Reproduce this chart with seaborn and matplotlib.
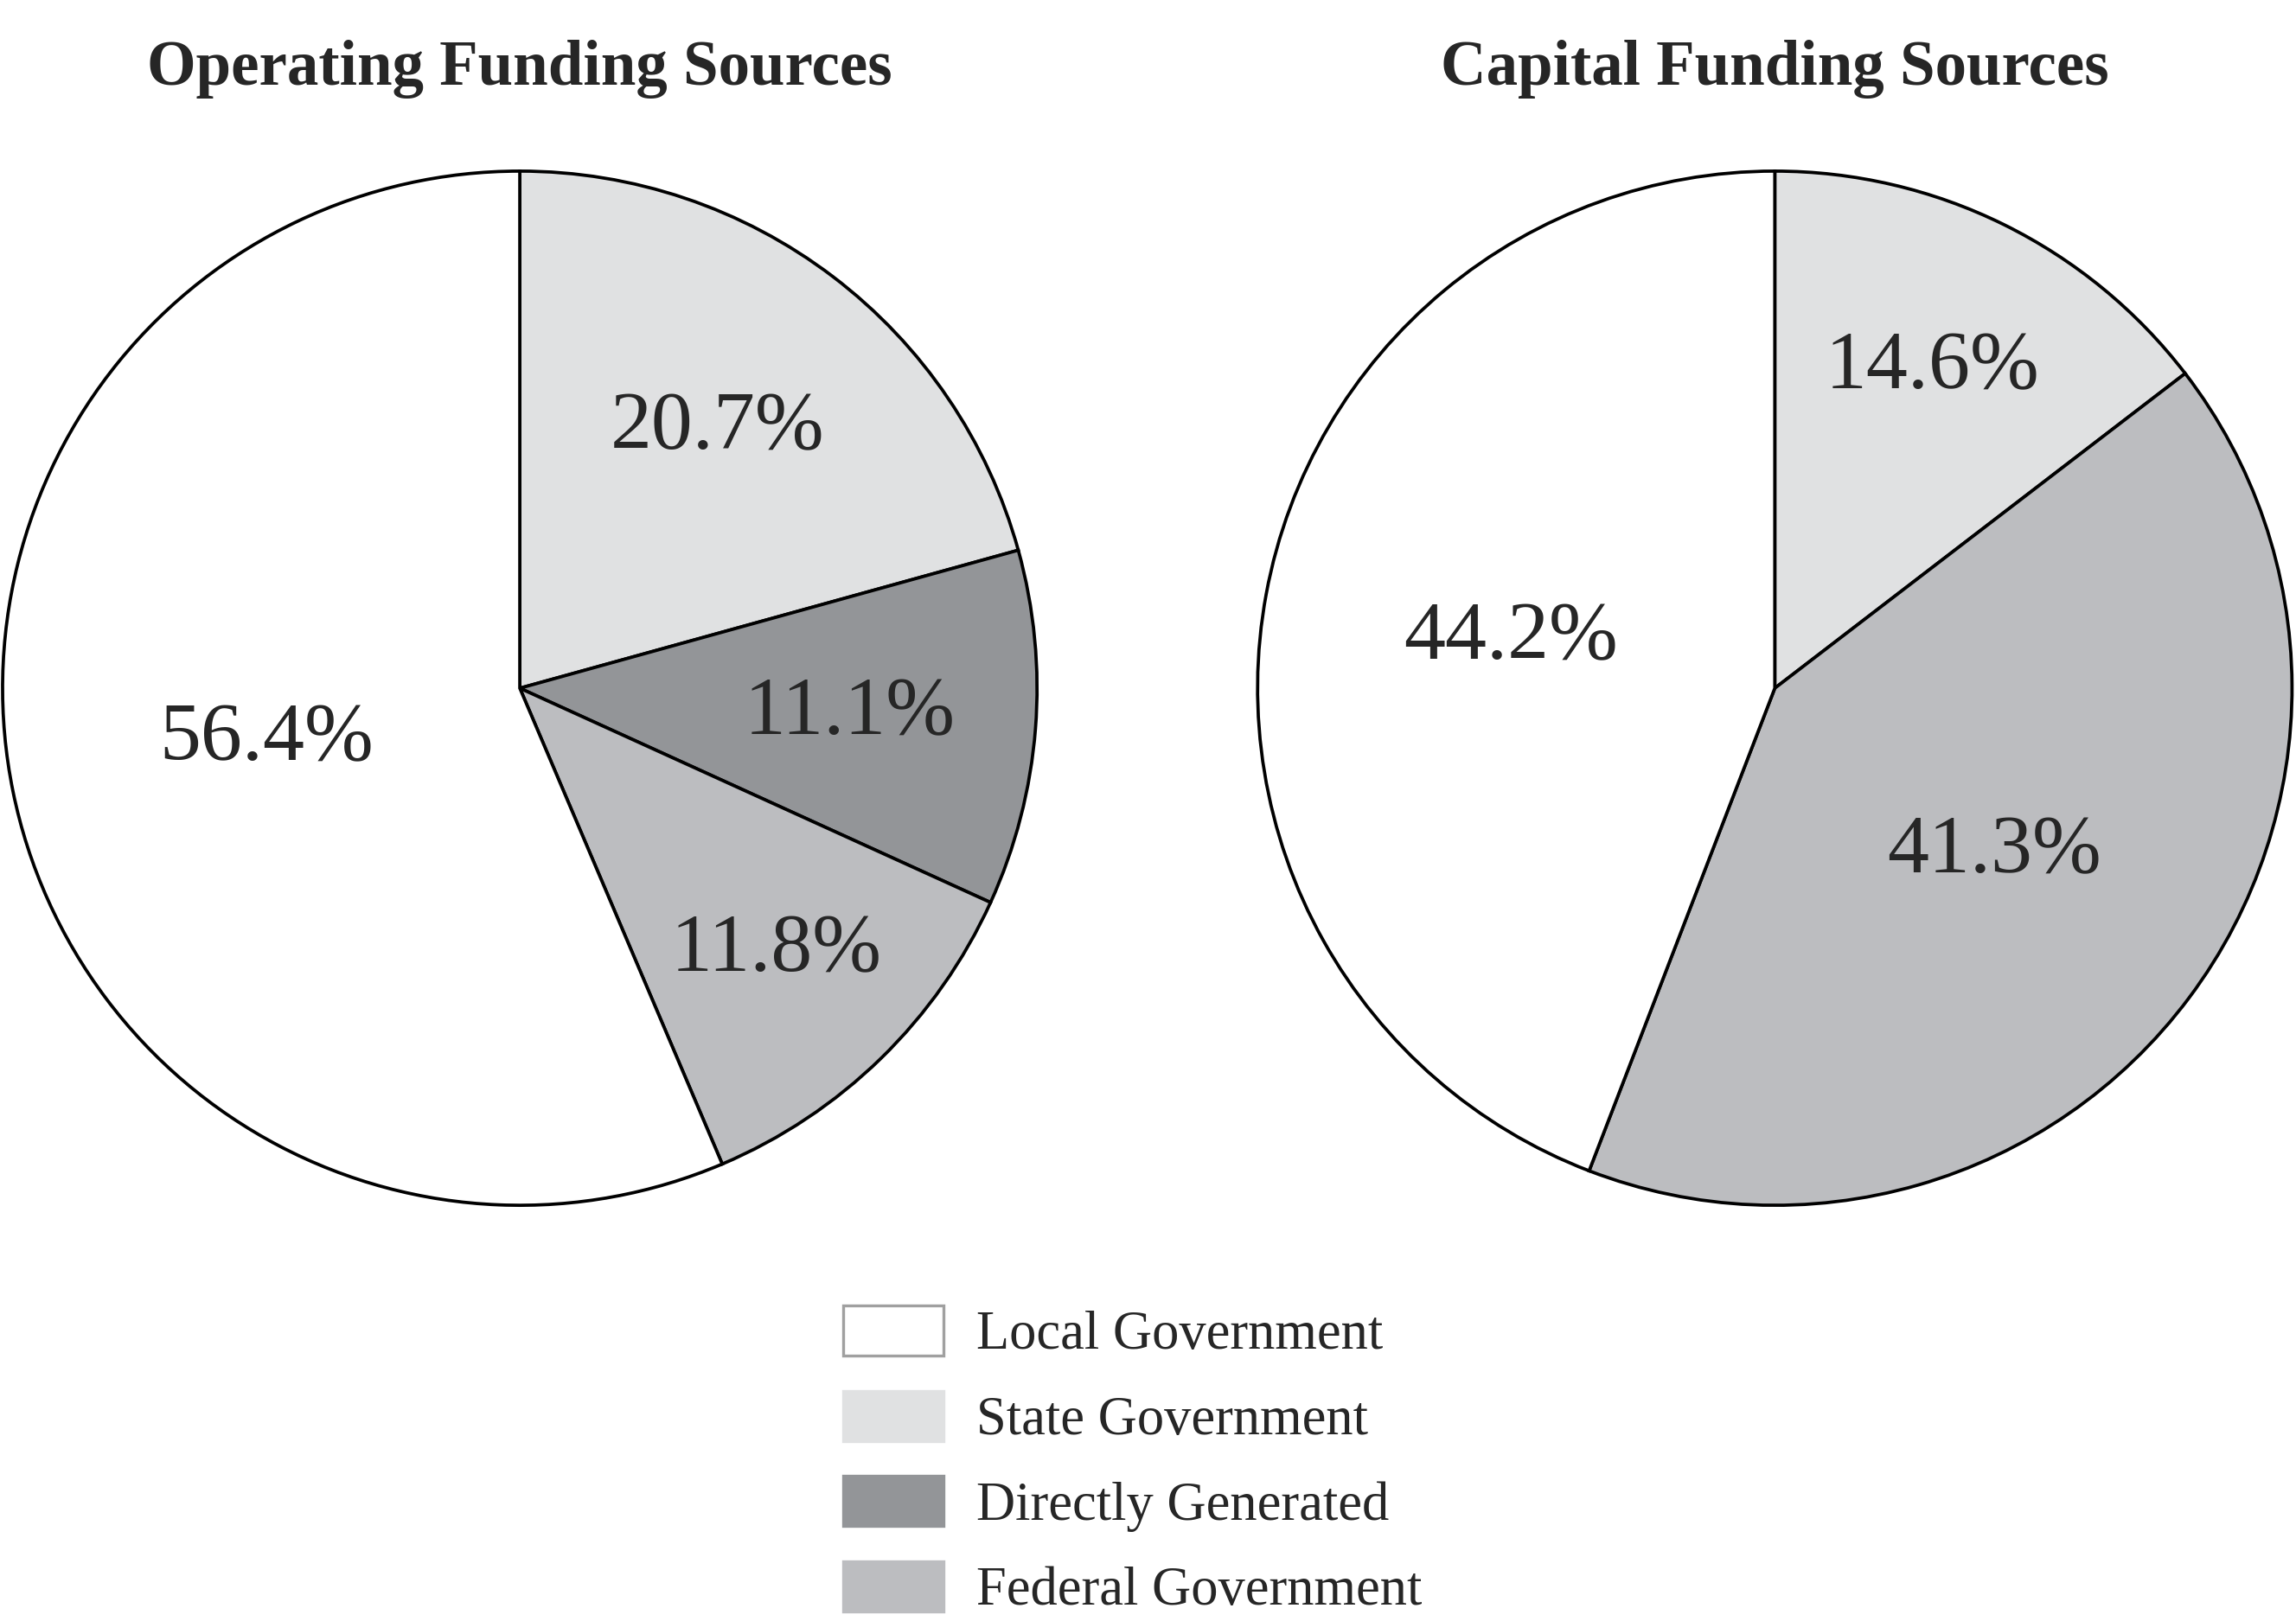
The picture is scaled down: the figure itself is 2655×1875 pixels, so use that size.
import numpy as np
import matplotlib.pyplot as plt
import matplotlib.patches as mpatches
import seaborn as sns

sns.set_theme(style="white")
plt.rcParams['font.family'] = ['Liberation Serif', 'DejaVu Serif']

# data (clockwise from 12 o'clock)
op_labels = ["State Government", "Directly Generated", "Federal Government", "Local Government"]
op_values = [20.7, 11.1, 11.8, 56.4]
op_dist = [0.63, 0.64, 0.71, 0.50]

cap_labels = ["State Government", "Federal Government", "Local Government"]
cap_values = [14.6, 41.3, 44.2]
cap_dist = [0.69, 0.53, 0.52]

colors = {
    "Local Government": "#ffffff",
    "State Government": "#e0e1e2",
    "Directly Generated": "#939598",
    "Federal Government": "#bcbdc0",
}
legend_order = ["Local Government", "State Government", "Directly Generated", "Federal Government"]

fig = plt.figure(figsize=(8.85, 6.25), dpi=300)
ax1 = fig.add_axes([0.0, 0.2527, 0.4528, 0.6455])
ax2 = fig.add_axes([0.5466, 0.2527, 0.4528, 0.6455])


def draw_pie(ax, labels, values, dists, title):
    wedges, _ = ax.pie(values, colors=[colors[l] for l in labels], startangle=90,
                       counterclock=False,
                       wedgeprops=dict(edgecolor='black', linewidth=0.9))
    for w, v, d in zip(wedges, values, dists):
        ang = np.deg2rad((w.theta1 + w.theta2) / 2)
        ax.text(d * np.cos(ang), d * np.sin(ang), f"{v:.1f}%",
                ha='center', va='center', fontsize=23)
    ax.set_aspect('equal')
    ax.set_xlim(-1.005, 1.005)
    ax.set_ylim(-1.005, 1.005)
    ax.axis('off')
    ax.set_title(title, fontsize=17.5, fontweight='bold', y=1.06)


draw_pie(ax1, op_labels, op_values, op_dist, "Operating Funding Sources")
draw_pie(ax2, cap_labels, cap_values, cap_dist, "Capital Funding Sources")

handles = [mpatches.Patch(facecolor=colors[l],
                          edgecolor='#a0a0a0' if l == "Local Government" else colors[l],
                          linewidth=0.8, label=l) for l in legend_order]
fig.legend(handles=handles, loc='upper left', bbox_to_anchor=(0.358, 0.208),
           frameon=False, fontsize=15, handlelength=1.85, handleheight=1.05,
           labelspacing=0.55, handletextpad=0.6, borderaxespad=0)

fig.savefig("out.png", dpi=300, facecolor='white')
